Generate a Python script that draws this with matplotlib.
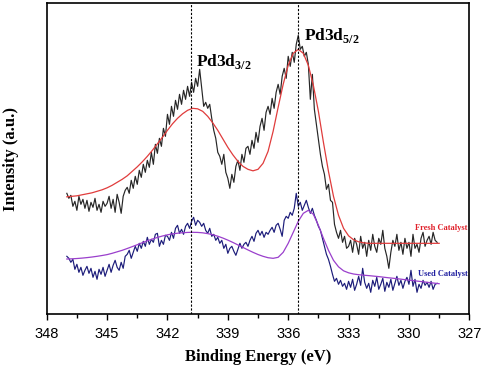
import numpy as np
import matplotlib
matplotlib.use("Agg")
import matplotlib.pyplot as plt
from matplotlib.ticker import MultipleLocator

plt.rcParams['mathtext.fontset'] = 'custom'
plt.rcParams['mathtext.rm'] = 'Liberation Serif:bold'
plt.rcParams['mathtext.bf'] = 'Liberation Serif:bold'

# Raw spectra: 347.0 -> 328.6 eV, 0.1 eV step (arbitrary intensity units)
raw_energy = np.round(np.arange(347.0, 328.55, -0.1), 2)
fresh_raw = [
    121, 116, 119, 108, 113, 104, 118, 110, 115, 106,
    114, 103, 112, 107, 116, 104, 110, 102, 113, 108,
    111, 118, 106, 115, 102, 120, 112, 101, 118, 124,
    127, 121, 134, 126, 138, 130, 144, 137, 150, 142,
    154, 147, 162, 150, 170, 161, 176, 168, 186, 178,
    200, 190, 208, 198, 214, 205, 220, 210, 224, 215,
    228, 218, 232, 222, 236, 228, 245, 226, 208, 212,
    206, 210, 196, 184, 176, 162, 158, 150, 160, 142,
    136, 126, 140, 132, 148, 154, 144, 160, 152, 166,
    168, 160, 174, 166, 182, 172, 188, 196, 184, 202,
    208, 200, 216, 206, 222, 230, 220, 238, 246, 236,
    258, 248, 262, 252, 270, 279, 265, 268, 258, 262,
    250, 215, 240, 205, 190, 175, 160, 148, 140, 125,
    130, 114, 112, 90, 82, 76, 84, 72, 78, 66,
    68, 74, 62, 76, 70, 60, 78, 66, 72, 58,
    74, 64, 80, 68, 62, 76, 70, 84, 66, 58,
    46, 62, 74, 68, 80, 64, 72, 60, 76, 66,
    72, 58, 80, 66, 70, 62, 76, 82, 68, 74,
    78, 70, 82, 74, 72,
]
used_raw = [
    58, 56, 52, 55, 45, 50, 42, 47, 39, 44,
    48, 41, 46, 37, 43, 35, 45, 40, 47, 38,
    44, 50, 42, 49, 54, 47, 44, 52, 46, 58,
    60, 64, 56, 62, 68, 63, 71, 66, 73, 68,
    77, 70, 75, 72, 80, 81, 68, 74, 70, 79,
    78, 74, 82, 76, 86, 89, 81, 85, 80, 88,
    91, 86, 93, 97, 89, 94, 92, 88, 91, 84,
    81, 86, 78, 80, 74, 77, 71, 74, 66, 70,
    61, 66, 68, 63, 59, 65, 71, 66, 70, 72,
    68, 74, 78, 73, 81, 84, 79, 83, 77, 82,
    80, 84, 87, 82, 89, 91, 85, 78, 94, 98,
    96, 102, 99, 106, 121, 108, 112, 104, 109, 114,
    107, 101, 106, 99, 94, 88, 84, 76, 68, 60,
    55, 48, 40, 33, 36, 30, 34, 28, 31, 25,
    33, 27, 35, 24, 30, 38, 29, 46, 32, 26,
    31, 22, 34, 28, 37, 25, 30, 36, 23, 32,
    27, 35, 24, 31, 38, 29, 34, 26, 33, 37,
    30, 44, 28, 35, 22, 30, 26, 34, 29, 32,
    27, 33, 25, 30, 31,
]

# Fitted envelopes: 347.0 -> 328.5 eV, 0.25 eV step
fit_energy = np.round(np.arange(347.0, 328.49, -0.25), 2)
fresh_fit = [
    117.5, 118, 118.5, 119.5, 120.5, 121.5, 123, 124.5, 126.5, 129,
    132, 135, 138.5, 143, 147.5, 152.5, 158, 164, 170.5, 177,
    184, 190.5, 196, 200.5, 204, 206, 205.5, 203, 198, 191.5,
    184, 175.5, 167, 159.5, 153, 148, 145, 143.5, 145, 151,
    163, 183, 207, 230, 249, 261, 265, 261, 249, 229,
    203, 172, 143, 118, 99, 86, 78.5, 74.5, 72.5, 71.5,
    71, 71, 71, 71, 71, 71, 71, 71, 71, 71,
    71, 71, 71, 71, 71,
]
used_fit = [
    55.3, 55.5, 55.8, 56.2, 56.7, 57.3, 58, 58.8, 59.7, 61,
    62.5, 64, 65.8, 67.7, 69.6, 71.6, 73.5, 75.3, 76.9, 78.3,
    79.5, 80.4, 81.1, 81.6, 81.9, 82, 81.9, 81.5, 80.7, 79.6,
    78.1, 76.3, 74.2, 71.9, 69.4, 66.9, 64.4, 62, 59.8, 58,
    56.6, 56, 57, 62, 71, 82, 93, 101, 104, 100,
    89, 76, 64, 54, 47.5, 43.5, 41.5, 40.3, 39.6, 39.1,
    38.7, 38.2, 37.7, 37.1, 36.5, 36, 35.4, 34.8, 34.2, 33.6,
    33, 32.4, 31.8, 31.2, 30.6,
]

peak_positions = [340.85, 335.5]
xticks = [348, 345, 342, 339, 336, 333, 330, 327]

fig = plt.figure(figsize=(4.84, 3.70), dpi=100)
ax = fig.add_axes([0.0965, 0.1505, 0.8732, 0.8405])

ax.plot(raw_energy, fresh_raw, color='#262626', lw=0.85)
ax.plot(fit_energy, fresh_fit, color='#e03c3c', lw=0.9)
ax.plot(raw_energy, used_raw, color='#1c1c7a', lw=0.85)
ax.plot(fit_energy, used_fit, color='#9a3fcc', lw=0.9)

for p in peak_positions:
    ax.axvline(p, color='black', lw=0.8, ls=(0, (2, 1.5)))

ax.set_xlim(348, 327)
ax.set_ylim(0, 311)
ax.set_xticks(xticks)
ax.set_xticklabels([str(t) for t in xticks], family='Liberation Sans', fontsize=10.5)
ax.xaxis.set_minor_locator(MultipleLocator(1.5))
ax.set_yticks([])
ax.tick_params(axis='x', which='major', direction='out', length=4, width=1, pad=5)
ax.tick_params(axis='x', which='minor', direction='out', length=3, width=1)
for s in ax.spines.values():
    s.set_linewidth(1.2)

ax.set_xlabel('Binding Energy (eV)', family='Liberation Serif', weight='bold',
              fontsize=12, labelpad=6)
ax.set_ylabel('Intensity (a.u.)', family='Liberation Serif', weight='bold',
              fontsize=12, labelpad=20)

ax.text(340.6, 243, r'Pd3d$_{3/2}$', family='Liberation Serif', weight='bold',
        fontsize=12.5, ha='left', va='bottom')
ax.text(335.2, 269, r'Pd3d$_{5/2}$', family='Liberation Serif', weight='bold',
        fontsize=12.5, ha='left', va='bottom')

ax.text(327.1, 86, 'Fresh Catalyst', color='#e0202a', family='Liberation Serif',
        weight='bold', fontsize=6, ha='right', va='center')
ax.text(327.1, 40, 'Used Catalyst', color='#2020a0', family='Liberation Serif',
        weight='bold', fontsize=6, ha='right', va='center')

fig.savefig('out.png', dpi=100)
